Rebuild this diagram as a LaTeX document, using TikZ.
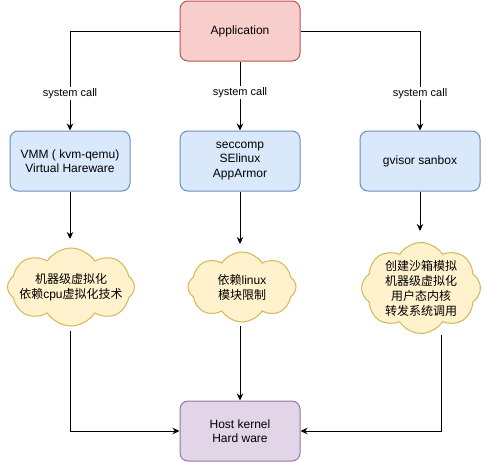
\documentclass[tikz,border=0pt]{standalone}
\usepackage{fontspec}
\setmainfont{Liberation Sans}
\newfontfamily\cjk{Noto Sans CJK SC}
\newfontfamily\lat{Liberation Sans}
\usetikzlibrary{shapes.symbols,arrows.meta}
\definecolor{redfill}{HTML}{F8CECC}
\definecolor{redline}{HTML}{B85450}
\definecolor{bluefill}{HTML}{DAE8FC}
\definecolor{blueline}{HTML}{6C8EBF}
\definecolor{yelfill}{HTML}{FFF2CC}
\definecolor{yelline}{HTML}{D6B656}
\definecolor{purfill}{HTML}{E1D5E7}
\definecolor{purline}{HTML}{9673A6}
\tikzset{
  boxstyle/.style={draw, line width=1pt, rounded corners=8pt, minimum width=120pt, minimum height=60pt, inner sep=0pt, align=center, font=\fontsize{12}{14.5}\selectfont},
  redbox/.style={boxstyle, fill=redfill, draw=redline},
  bluebox/.style={boxstyle, fill=bluefill, draw=blueline},
  purbox/.style={boxstyle, fill=purfill, draw=purline},
  cloudstyle/.style={cloud, cloud puffs=8, cloud puff arc=115, cloud ignores aspect, draw=yelline, fill=yelfill, line width=1pt, inner sep=0pt, align=center, font=\cjk\fontsize{12}{15}\selectfont},
  conn/.style={line width=1pt, -{Stealth[length=7pt,width=6.5pt]}},
  lbl/.style={fill=white, inner sep=1.5pt, font=\fontsize{11}{13}\selectfont},
}
\begin{document}
\begin{tikzpicture}[x=1pt,y=-1pt]
\useasboundingbox (0,0) rectangle (486,461);
\node[redbox] (app) at (240,31) {Application};
\node[bluebox] (vmm) at (70,161) {VMM ( kvm-qemu)\\Virtual Hareware};
\node[bluebox] (sec) at (240,161) {seccomp\\SElinux\\AppArmor};
\node[bluebox] (gv) at (420,161) {gvisor sanbox};
\node[purbox] (host) at (240,431) {Host kernel\\Hard ware};

\node[cloudstyle, minimum width=127pt, minimum height=78pt, inner xsep=-14pt] (c1) at (71,287) {机器级虚拟化\\依赖{\lat cpu}虚拟化技术};
\node[cloudstyle, minimum width=108pt, minimum height=70pt] (c2) at (242,287) {依赖{\lat linux}\\模块限制};
\node[cloudstyle, minimum width=119pt, minimum height=91pt, inner ysep=-6pt] (c3) at (421,288) {创建沙箱模拟\\机器级虚拟化\\用户态内核\\转发系统调用};

\coordinate (c1t) at (70,239);
\coordinate (c2t) at (240,244);
\coordinate (c3t) at (420,231);
\coordinate (c1b) at (70,331);
\coordinate (c2b) at (240,326);
\coordinate (c3b) at (441,335);

\draw[conn] (app.west) -| (vmm.north) node[lbl, pos=0.815] {system call};
\draw[conn] (app.south) -- (sec.north) node[lbl, pos=0.45] {system call};
\draw[conn] (app.east) -| (gv.north) node[lbl, pos=0.815] {system call};

\draw[conn] (vmm.south) -- (c1t);
\draw[conn] (sec.south) -- (c2t);
\draw[conn] (gv.south) -- (c3t);

\draw[conn] (c1b) |- (host.west);
\draw[conn] (c2b) -- (host.north);
\draw[conn] (c3b) |- (host.east);
\end{tikzpicture}
\end{document}
